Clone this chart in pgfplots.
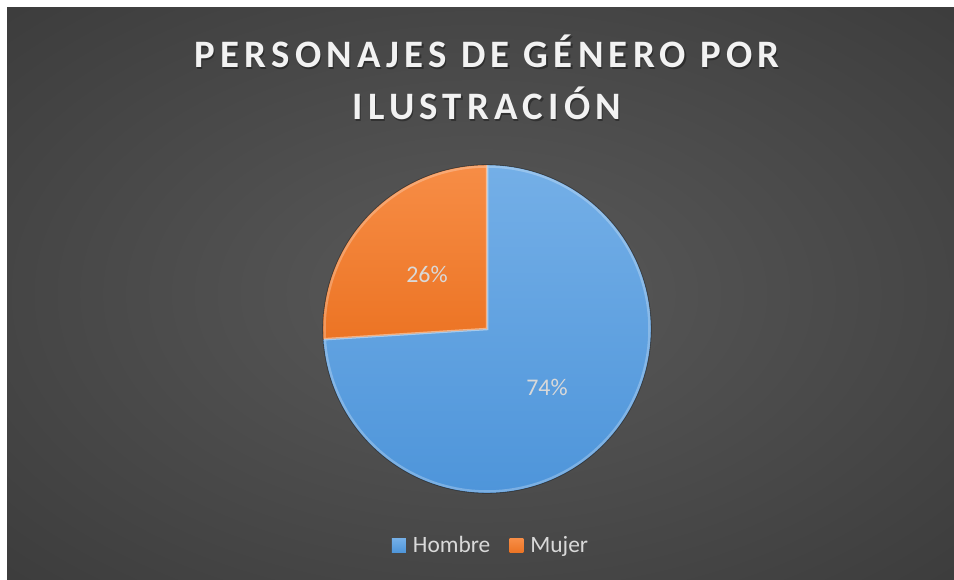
\documentclass[border=0pt]{standalone}
\usepackage{fontspec}
\setmainfont{Carlito}
\newfontfamily\titlefont[LetterSpace=13.5]{Carlito}
\usepackage{pgfplots}
\pgfplotsset{compat=1.18}
\definecolor{bgin}{HTML}{5A5A5A}
\definecolor{bgout}{HTML}{2A2A2A}
\definecolor{bluetop}{HTML}{74AFE7}
\definecolor{bluebot}{HTML}{4E95DA}
\definecolor{orgtop}{HTML}{F78D46}
\definecolor{orgbot}{HTML}{EC7424}
\definecolor{txt}{HTML}{D9D9D9}
\pgfdeclareradialshading{bgshade}{\pgfpoint{0bp}{0bp}}{color(0bp)=(bgin); color(58bp)=(bgout); color(75bp)=(bgout)}
% data (percent)
\def\hombre{74}
\def\mujer{26}
\begin{document}
\begin{tikzpicture}
\fill[white] (0,0) rectangle (954bp,580bp);
\shade[shading=bgshade] (7bp,0) rectangle (954bp,572bp);
\pgfmathsetmacro\angM{90+\mujer*3.6}
\pgfmathsetmacro\angH{\angM+\hombre*3.6}
\begin{axis}[
  x=1bp, y=1bp, xmin=0, xmax=954, ymin=0, ymax=580,
  hide axis, clip=false,
  legend columns=2,
  legend style={at={(axis cs:491,34.5)}, anchor=center, draw=none, fill=none,
    text=txt, font=\fontsize{23.5}{26}\selectfont, inner sep=0pt,
    /tikz/every even column/.append style={column sep=17bp},
    /tikz/every odd column/.append style={column sep=5bp}},
  legend image code/.code={\fill[#1] (0bp,-7bp) rectangle (14bp,7bp);},
]
\addplot[shading=axis, top color=bluetop, bottom color=bluebot, draw=none,
  domain=\angM:\angH, samples=120, variable=\t]
  ({487+164*cos(\t)},{251+164*sin(\t)}) -- (axis cs:487,251) -- cycle;
\addlegendentry{Hombre}
\addplot[shading=axis, top color=orgtop, bottom color=orgbot, draw=none,
  domain=90:\angM, samples=60, variable=\t]
  ({487+164*cos(\t)},{251+164*sin(\t)}) -- (axis cs:487,251) -- cycle;
\addlegendentry{Mujer}
% bevel highlight
\addplot[draw=white, opacity=0.25, line width=2.5bp, forget plot,
  domain=\angM:\angH, samples=120, variable=\t]
  ({487+162.5*cos(\t)},{251+162.5*sin(\t)}) -- (axis cs:487,251) -- cycle;
\addplot[draw=white, opacity=0.25, line width=2.5bp, forget plot,
  domain=90:\angM, samples=60, variable=\t]
  ({487+162.5*cos(\t)},{251+162.5*sin(\t)}) -- (axis cs:487,251) -- cycle;
% dark outer rim
\addplot[draw=black, opacity=0.35, line width=0.8bp, forget plot,
  domain=90:450, samples=200, variable=\t]
  ({487+164.2*cos(\t)},{251+164.2*sin(\t)});
\node[text=txt, font=\fontsize{24}{28}\selectfont, anchor=base] at (axis cs:427,298) {26\%};
\node[text=txt, font=\fontsize{24}{28}\selectfont, anchor=base] at (axis cs:547,185) {74\%};
\node[text=black, opacity=0.35, font=\titlefont\bfseries\fontsize{39}{52}\selectfont, anchor=base] at (axis cs:488.2,510.8) {PERSONAJES DE GÉNERO POR};
\node[text=black, opacity=0.35, font=\titlefont\bfseries\fontsize{39}{52}\selectfont, anchor=base] at (axis cs:488.2,458.8) {ILUSTRACIÓN};
\node[text=white!95!black, font=\titlefont\bfseries\fontsize{39}{52}\selectfont, anchor=base] at (axis cs:487,512) {PERSONAJES DE GÉNERO POR};
\node[text=white!95!black, font=\titlefont\bfseries\fontsize{39}{52}\selectfont, anchor=base] at (axis cs:487,460) {ILUSTRACIÓN};
\end{axis}
\end{tikzpicture}
\end{document}
